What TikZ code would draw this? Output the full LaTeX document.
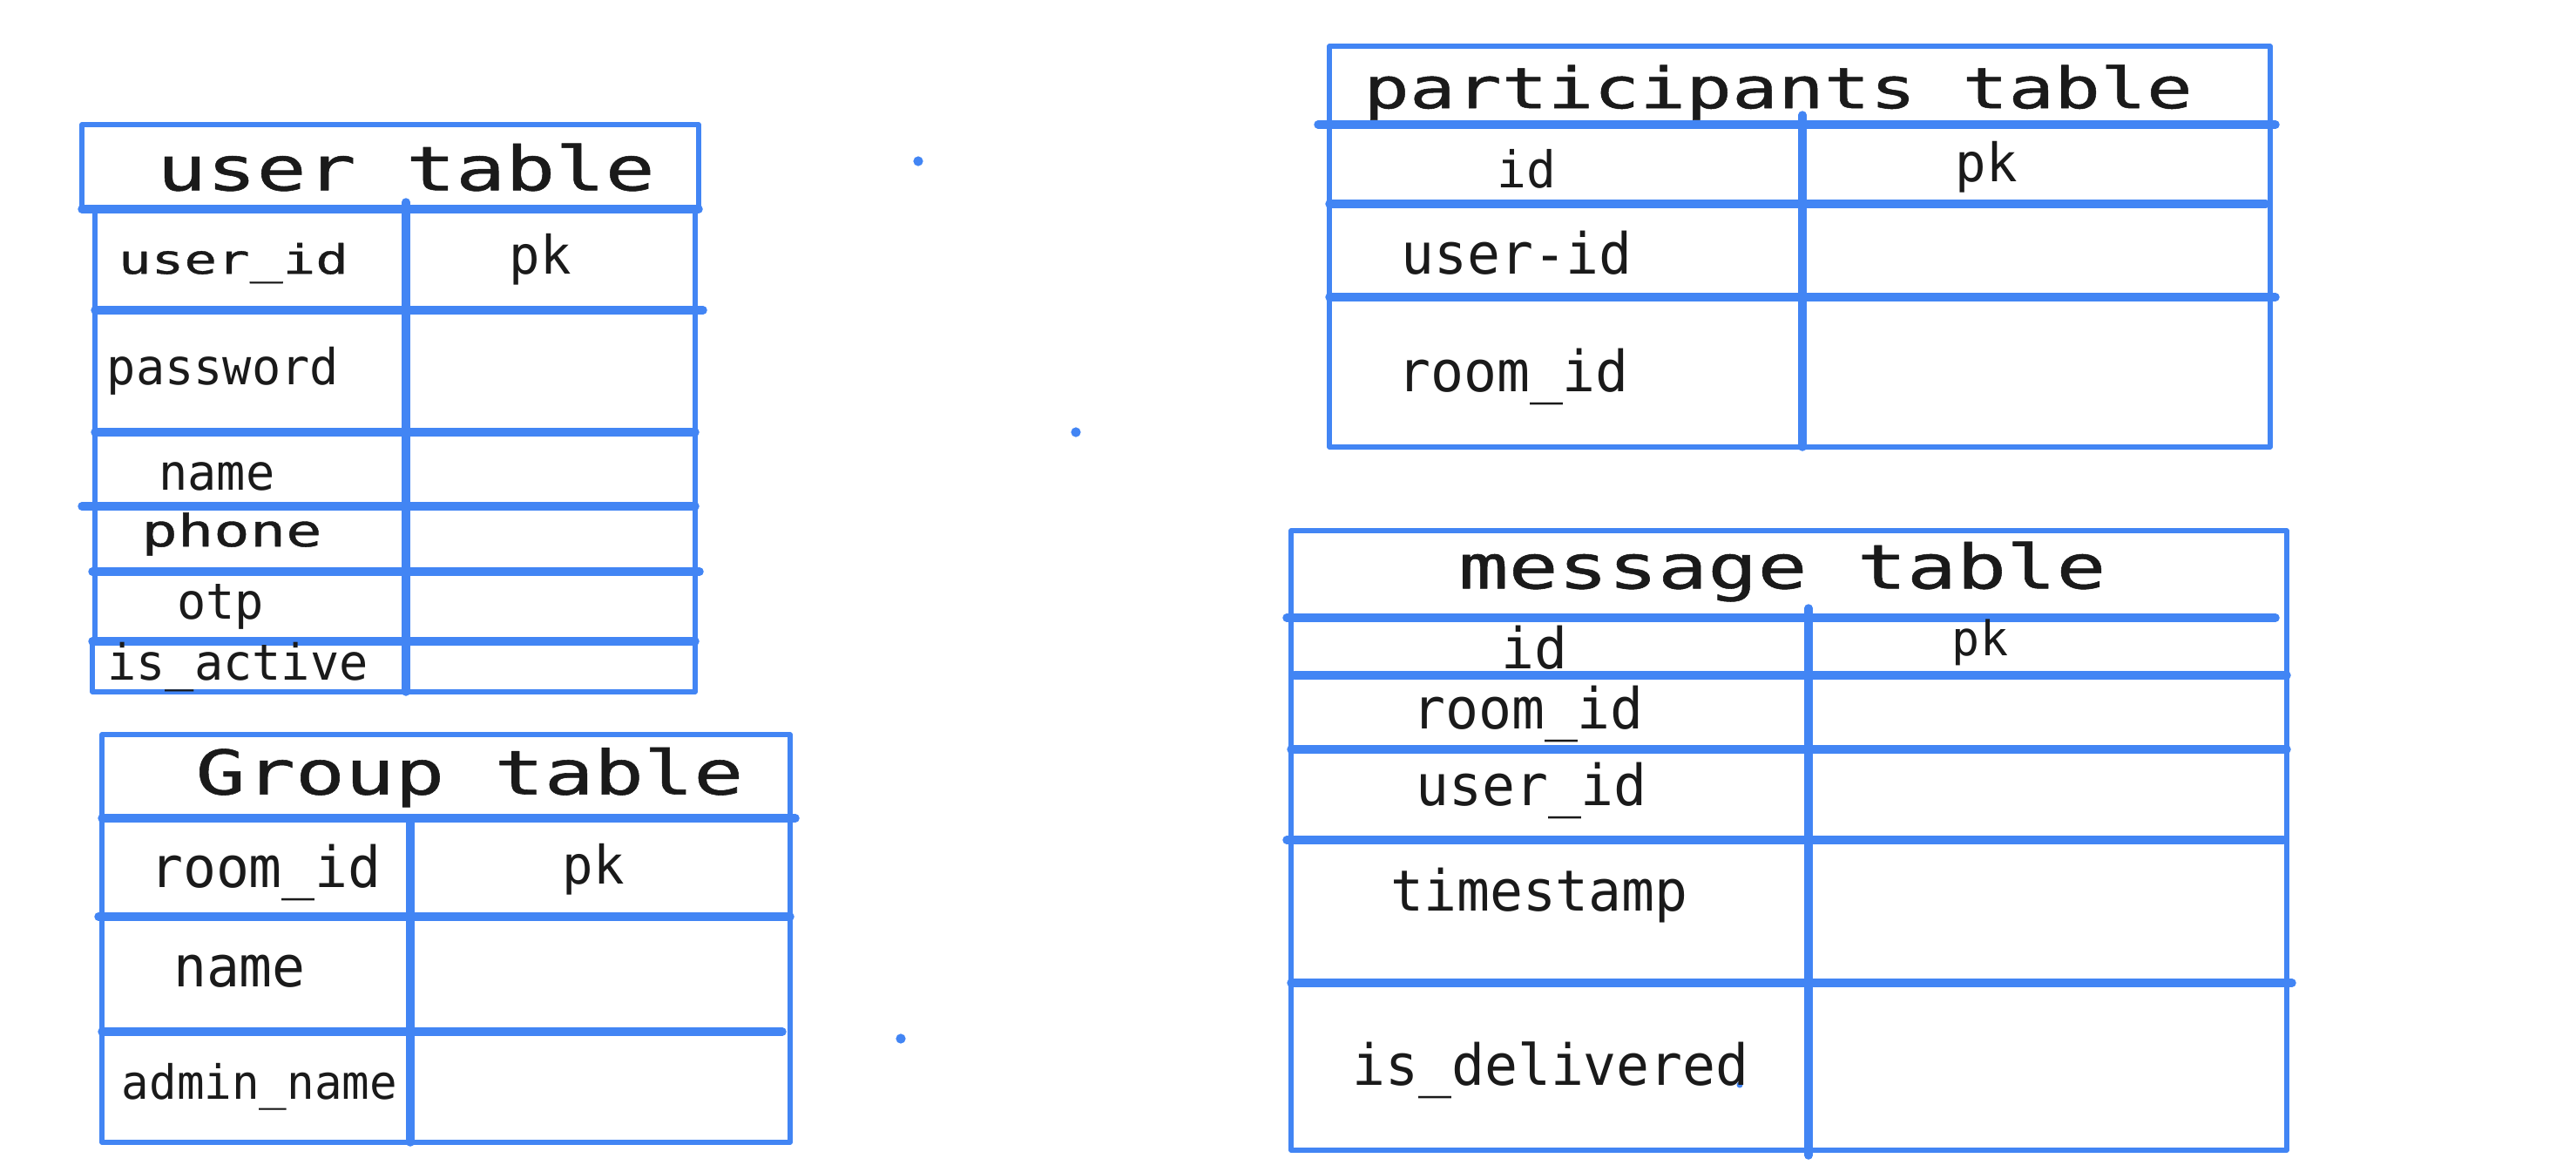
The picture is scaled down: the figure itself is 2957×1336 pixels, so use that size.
\documentclass[tikz,border=0pt]{standalone}
\usepackage{fontspec}
\usepackage{tikz}
\newfontfamily\titlefont[FakeStretch=1.35,FakeBold=0.8]{DejaVu Sans Mono}
\newfontfamily\rowfont[FakeStretch=0.97]{DejaVu Sans Mono}
\definecolor{chalk}{RGB}{66,133,244}
\definecolor{ink}{RGB}{26,26,26}

\begin{document}
\begin{tikzpicture}[x=0.01cm,y=-0.01cm,line join=round,
    rim/.style={draw=chalk,line width=1.6pt},
    rule/.style={draw=chalk,line width=2.7pt,line cap=round},
    ttl/.style={text=ink,inner sep=0pt,font={\titlefont\fontsize{#1}{#1}\selectfont}}, ttl/.default=20,
    fld/.style={text=ink,inner sep=0pt,font={\rowfont\fontsize{#1}{#1}\selectfont}}, fld/.default=18.5]
    \useasboundingbox (0,0) rectangle (2957,1336);
    % user table
       \draw[rim] (94,143) rectangle (802,240);
       \draw[rim] (109,240) -- (109,736) (106,736) -- (106,794) -- (798,794) -- (798,240);
       \draw[rule] (94,240) -- (802,240) (109,356) -- (807,356) (109,496) -- (798,496)
                   (94,581) -- (798,581) (106,656) -- (803,656) (106,736) -- (798,736);
       \draw[rule] (466,232) -- (466,794);
    % Group table
       \draw[rim] (117,843) rectangle (907,1311);
       \draw[rule] (117,939) -- (913,939) (113,1052) -- (907,1052) (117,1184) -- (898,1184);
       \draw[rule] (471,939) -- (471,1311);
    % participants table
       \draw[rim] (1526,53) rectangle (2606,513);
       \draw[rule] (1513,143) -- (2612,143) (1526,234) -- (2601,234) (1526,341) -- (2612,341);
       \draw[rule] (2069,132) -- (2069,513);
    % message table
       \draw[rim] (1482,609) rectangle (2625,1320);
       \draw[rule] (1477,709) -- (2612,709) (1486,775) -- (2625,775) (1482,860) -- (2625,860)
                   (1477,964) -- (2621,964) (1482,1128) -- (2631,1128);
       \draw[rule] (2076,698) -- (2076,1326);
    % stray marks
       \fill[chalk] (1054,185) circle (1.6pt) (1235,496) circle (1.6pt)
                    (1034,1192) circle (1.6pt) (1997,1245) circle (1pt);
       \node[ttl] (usrT) at (466,192) {user table};
       \node[ttl=13.2] (usrId) at (268,302) {user\_id};
       \node[fld=17.3] (usrPk) at (620,298) {pk};
       \node[fld=16.2] (usrPw) at (256,426) {password};
       \node[fld=16.2] (usrNm) at (249,547) {name};
       \node[ttl=14.5] (usrPh) at (266,613) {phone};
       \node[fld=16.2] (usrOtp) at (253,696) {otp};
       \node[fld=16.2] (usrAct) at (273,766) {is\_active};
       \node[ttl] (grpT) at (539,892) {Group table};
       \node[fld] (grpRoom) at (305,1001) {room\_id};
       \node[fld=17.3] (grpPk) at (681,998) {pk};
       \node[fld] (grpNm) at (275,1115) {name};
       \node[fld=15.4] (grpAdm) at (298,1247) {admin\_name};
       \node[ttl=18.5] (parT) at (2041,106) {participants table};
       \node[fld=16.5] (parId) at (1752,194) {id};
       \node[fld=17.3] (parPk) at (2280,192) {pk};
       \node[fld] (parUsr) at (1741,290) {user-id};
       \node[fld] (parRoom) at (1737,432) {room\_id};
       \node[ttl] (msgT) at (2046,656) {message table};
       \node[fld] (msgId) at (1761,743) {id};
       \node[fld=15.6] (msgPk) at (2273,737) {pk};
       \node[fld] (msgRoom) at (1754,819) {room\_id};
       \node[fld] (msgUsr) at (1758,907) {user\_id};
       \node[fld] (msgTs) at (1767,1028) {timestamp};
       \node[fld] (msgDlv) at (1780,1228) {is\_delivered};
\end{tikzpicture}
\end{document}
